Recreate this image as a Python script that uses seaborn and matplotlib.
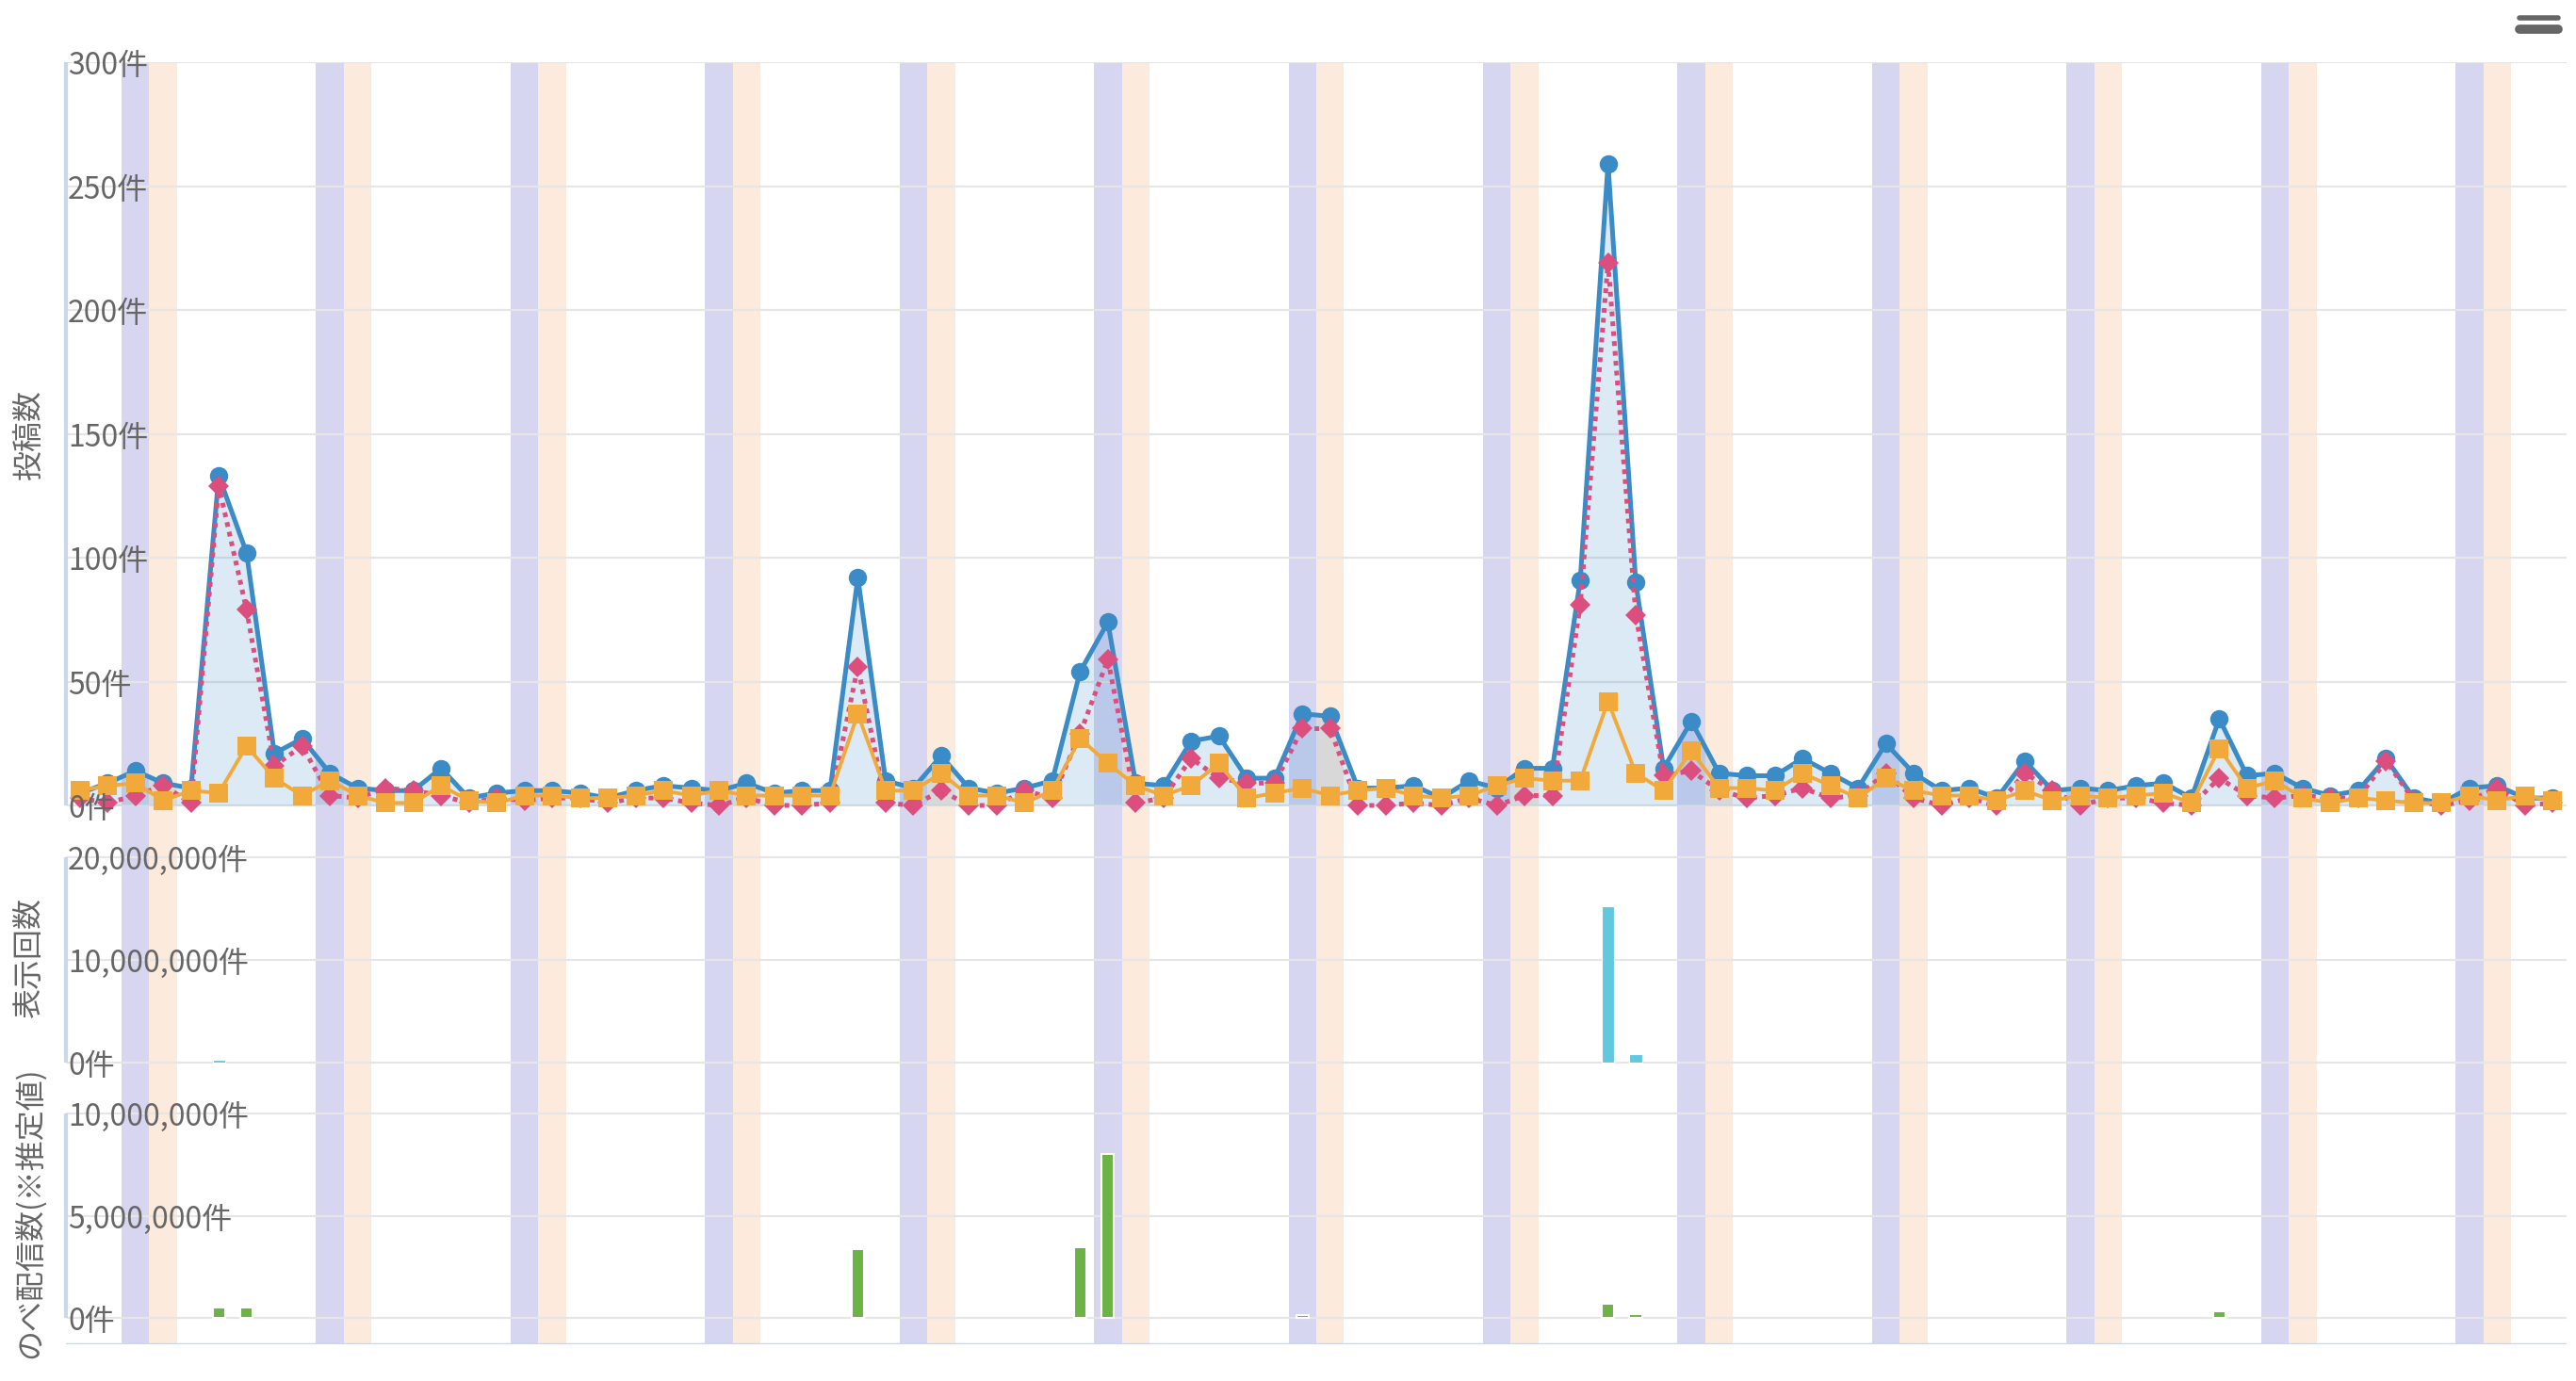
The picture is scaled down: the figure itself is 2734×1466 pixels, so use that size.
import numpy as np
import pandas as pd
import matplotlib.pyplot as plt
import seaborn as sns

# 日別の投稿数 (90日分)
posts_total = [5, 9, 14, 9, 7, 133, 102, 21, 27, 13,
               7, 6, 6, 15, 3, 5, 6, 6, 5, 3,
               6, 8, 7, 6, 9, 5, 6, 6, 92, 10,
               7, 20, 7, 5, 7, 10, 54, 74, 9, 8,
               26, 28, 11, 11, 37, 36, 7, 7, 8, 3,
               10, 7, 15, 15, 91, 259, 90, 15, 34, 13,
               12, 12, 19, 13, 7, 25, 13, 6, 7, 3,
               18, 6, 7, 6, 8, 9, 3, 35, 12, 13,
               7, 4, 6, 19, 3, 1, 7, 8, 3, 3]
posts_pink = [3, 1, 4, 8, 1, 129, 79, 16, 24, 4,
              3, 7, 6, 4, 1, 3, 2, 3, 3, 1,
              3, 3, 1, 0, 3, 0, 0, 1, 56, 1,
              0, 6, 0, 0, 6, 3, 29, 59, 1, 3,
              19, 11, 9, 9, 31, 31, 0, 0, 1, 0,
              3, 0, 4, 4, 81, 219, 77, 12, 14, 6,
              3, 4, 7, 3, 4, 13, 3, 0, 3, 0,
              13, 6, 0, 3, 3, 1, 0, 11, 4, 3,
              4, 3, 3, 18, 2, 0, 2, 7, 0, 1]
posts_orange = [6, 8, 9, 2, 6, 5, 24, 11, 4, 10,
                4, 1, 1, 8, 2, 1, 4, 4, 3, 3,
                4, 6, 4, 6, 4, 4, 4, 4, 37, 6,
                6, 13, 4, 4, 1, 6, 27, 17, 8, 4,
                8, 17, 3, 5, 7, 4, 6, 7, 4, 3,
                4, 8, 11, 10, 10, 42, 13, 6, 22, 7,
                7, 6, 13, 8, 3, 11, 6, 4, 4, 2,
                6, 2, 4, 3, 4, 5, 1, 23, 7, 10,
                3, 1, 3, 2, 1, 1, 4, 2, 4, 2]

# 表示回数 / のべ配信数 (値のある日のみ)
views_day = [5, 55, 56]
views_val = [250000, 15200000, 800000]
reach_day = [5, 6, 28, 36, 37, 44, 55, 56, 77]
reach_val = [500000, 500000, 3350000, 3450000, 8000000, 120000, 690000, 180000, 300000]

post_ticks = [0, 50, 100, 150, 200, 250, 300]
view_ticks = [0, 10000000, 20000000]
reach_ticks = [0, 5000000, 10000000]

n_days = len(posts_total)
first_weekday = 3  # 0=月曜, 先頭の日は木曜

sns.set_theme(style='white')
plt.rcParams['font.family'] = ['Noto Sans CJK JP', 'DejaVu Sans']

W, H = 2734, 1466
fig = plt.figure(figsize=(W / 100, H / 100), dpi=100)

C_BLUE = '#3a8bc6'
C_PINK = '#dc4e7d'
C_ORANGE = '#f2a93b'
C_CYAN = '#62c8e0'
C_GREEN = '#6ab344'
C_SAT = '#d7d6f1'
C_SUN = '#fceadd'
C_GRID = '#e6e6e6'
C_AXIS = '#ccd6eb'
C_TEXT = '#666666'
FS = 23


def add_ax(top_px, bottom_px):
    left, right = 70, 2724
    return fig.add_axes([left / W, 1 - bottom_px / H, (right - left) / W, (bottom_px - top_px) / H])


ax1 = add_ax(66, 900)
ax2 = add_ax(900, 1160)
ax3 = add_ax(1160, 1427)

days = np.arange(n_days)
weekday = (days + first_weekday) % 7

df = pd.DataFrame({'day': days, 'total': posts_total, 'pink': posts_pink, 'orange': posts_orange})


def base(ax, ticks, ylim, fmt):
    ax.set_xlim(-0.5, n_days - 0.5)
    ax.set_ylim(*ylim)
    for d in days[weekday == 5]:
        ax.axvspan(d - 0.5, d + 0.5, color=C_SAT, lw=0, zorder=0.2)
    for d in days[weekday == 6]:
        ax.axvspan(d - 0.5, d + 0.5, color=C_SUN, lw=0, zorder=0.2)
    for t in ticks:
        ax.axhline(t, color=C_GRID, lw=1.6, zorder=0.5)
        ax.annotate(fmt(t), xy=(0, t), xycoords=ax.get_yaxis_transform(),
                    xytext=(2, -4), textcoords='offset pixels',
                    ha='left', va='center', fontsize=FS, color=C_TEXT, zorder=10)
    ax.plot([-0.5, -0.5], [ticks[0], ticks[-1]], color=C_AXIS, lw=3, zorder=1,
            solid_capstyle='butt', clip_on=False)
    for s in ax.spines.values():
        s.set_visible(False)
    ax.set_xticks([])
    ax.set_yticks([])
    ax.set_xlabel('')
    ax.set_ylabel('')


fmt_count = lambda v: f'{int(v):,}件'

# 投稿数
base(ax1, post_ticks, (-17.1, 300), fmt_count)
ax1.fill_between(df['day'], df['total'], 0, color=C_BLUE, alpha=0.18, lw=0, zorder=2)
sns.lineplot(data=df, x='day', y='total', ax=ax1, color=C_BLUE, lw=3.6,
             marker='o', markersize=14, markeredgewidth=0, zorder=4)
sns.lineplot(data=df, x='day', y='pink', ax=ax1, color=C_PINK, lw=3.6,
             linestyle=(0, (1, 1.1)), marker='D', markersize=11, markeredgewidth=0, zorder=5)
sns.lineplot(data=df, x='day', y='orange', ax=ax1, color=C_ORANGE, lw=2.8,
             marker='s', markersize=14, markeredgewidth=0, zorder=6)
ax1.set_xlabel('')
ax1.set_ylabel('')
ax1.set_xlim(-0.5, n_days - 0.5)

# 表示回数
base(ax2, view_ticks, (-2.936e6, 20.917e6), fmt_count)
sns.barplot(x=views_day, y=views_val, ax=ax2, native_scale=True, width=0.45,
            color=C_CYAN, saturation=1, errorbar=None, edgecolor='white', linewidth=0.8, zorder=3)

# のべ配信数
base(ax3, reach_ticks, (-1.29e6, 11.014e6), fmt_count)
sns.barplot(x=reach_day, y=reach_val, ax=ax3, native_scale=True, width=0.45,
            color=C_GREEN, saturation=1, errorbar=None, edgecolor='white', linewidth=1.5, zorder=3)

for ax in (ax1, ax2, ax3):
    ax.set_xlim(-0.5, n_days - 0.5)
    ax.set_xticks([])
    ax.set_xlabel('')
    ax.set_ylabel('')

# x軸の線
ax3.axhline(ax3.get_ylim()[0], color=C_AXIS, lw=2.5, zorder=1)

# 軸タイトル
fig.text(31 / W, 1 - 462 / H, '投稿数', rotation=90, ha='center', va='center', fontsize=FS, color=C_TEXT)
fig.text(31 / W, 1 - 1017 / H, '表示回数', rotation=90, ha='center', va='center', fontsize=FS, color=C_TEXT)
fig.text(31 / W, 1 - 1287 / H, 'のべ配信数(※推定値)', rotation=90, ha='center', va='center',
         fontsize=FS, color=C_TEXT)

# メニューボタン
for yy, lw in ((19, 4), (31, 7)):
    fig.add_artist(plt.Line2D([2674 / W, 2715 / W], [1 - yy / H, 1 - yy / H], color=C_TEXT,
                              lw=lw, solid_capstyle='round'))

fig.savefig('out.png', dpi=100, facecolor='white')
